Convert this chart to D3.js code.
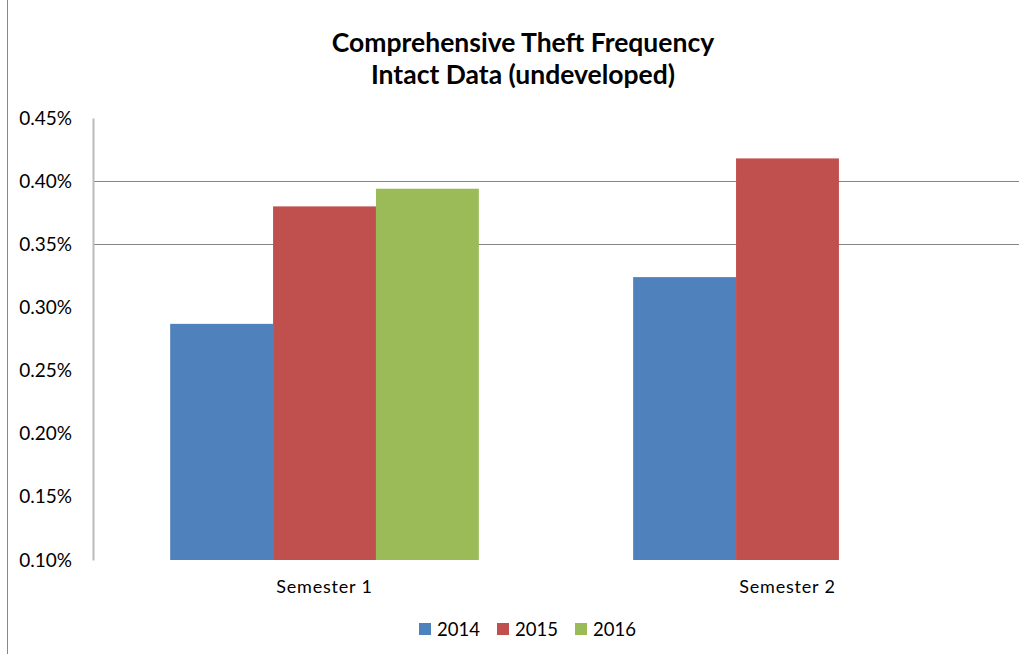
<!DOCTYPE html>
<html><head><meta charset="utf-8">
<script src="https://cdn.jsdelivr.net/npm/d3@7"></script>
<style>body{margin:0;background:#fff}svg{display:block}</style>
</head><body>
<script>
const categories = ["Semester 1", "Semester 2"];
const seriesNames = ["2014", "2015", "2016"];
const values2014 = [0.287, 0.324];
const values2015 = [0.380, 0.418];
const values2016 = [0.394, null];
const yTicks = [0.10, 0.15, 0.20, 0.25, 0.30, 0.35, 0.40, 0.45];
const gridValues = [0.35, 0.40];
const colors = ["#4F81BD", "#C0504D", "#9BBB59"];
const titleLines = ["Comprehensive Theft Frequency", "Intact Data (undeveloped)"];

const W = 1026, H = 654;
const font = "Lato, 'Open Sans', sans-serif";
const svg = d3.select("body").append("svg").attr("width", W).attr("height", H);

const plotL = 93, plotR = 1019, plotT = 118, plotB = 560;
const y = d3.scaleLinear().domain([0.10, 0.45]).range([plotB, plotT]);
const x0 = d3.scaleBand().domain(categories).range([plotL, plotR]).paddingInner(0.3333).paddingOuter(0.1667);
const x1 = d3.scaleBand().domain(seriesNames).range([0, x0.bandwidth()]);

// left border
svg.append("line").attr("x1", 7.5).attr("x2", 7.5).attr("y1", 0).attr("y2", H).attr("stroke", "#888").attr("stroke-width", 1);

// gridlines
svg.append("g").selectAll("line").data(gridValues).join("line")
  .attr("x1", plotL).attr("x2", plotR)
  .attr("y1", d => Math.round(y(d)) + 0.5).attr("y2", d => Math.round(y(d)) + 0.5)
  .attr("stroke", "#868686").attr("stroke-width", 1);

// bars
const data = [values2014, values2015, values2016];
const g = svg.append("g");
categories.forEach((c, ci) => {
  seriesNames.forEach((s, si) => {
    const v = data[si][ci];
    if (v == null) return;
    g.append("rect")
      .attr("x", x0(c) + x1(s)).attr("width", x1.bandwidth())
      .attr("y", y(v)).attr("height", plotB - y(v))
      .attr("fill", colors[si]);
  });
});

// y axis
const yAxis = d3.axisLeft(y).tickValues(yTicks).tickSize(0).tickPadding(21)
  .tickFormat(d => d.toFixed(2) + "%");
const ya = svg.append("g").attr("transform", `translate(${plotL},0)`).call(yAxis);
ya.select(".domain").attr("stroke", "#bbb").attr("stroke-width", 2);
ya.selectAll("text").attr("font-family", font).attr("font-size", 19).attr("fill", "#000");

// x axis labels
const xAxis = d3.axisBottom(x0).tickSize(0).tickPadding(20);
const xa = svg.append("g").attr("transform", `translate(0,${plotB})`).call(xAxis);
xa.select(".domain").remove();
xa.selectAll("text").attr("font-family", font).attr("font-size", 18)
  .attr("letter-spacing", "0.8px").attr("fill", "#000");

// title
svg.append("g").selectAll("text").data(titleLines).join("text")
  .attr("x", 523).attr("y", (d, i) => 52 + i * 32)
  .attr("text-anchor", "middle").attr("font-family", font).attr("font-weight", "bold")
  .attr("font-size", 26.5).attr("fill", "#000").text(d => d);

// legend
const legX = [419, 497, 575];
const leg = svg.append("g").selectAll("g").data(seriesNames).join("g")
  .attr("transform", (d, i) => `translate(${legX[i]},623)`);
leg.append("rect").attr("width", 12).attr("height", 12).attr("fill", (d, i) => colors[i]);
leg.append("text").attr("x", 18).attr("y", 13).attr("font-family", font).attr("font-size", 18.5)
  .attr("fill", "#000").text(d => d);
</script>
</body></html>
